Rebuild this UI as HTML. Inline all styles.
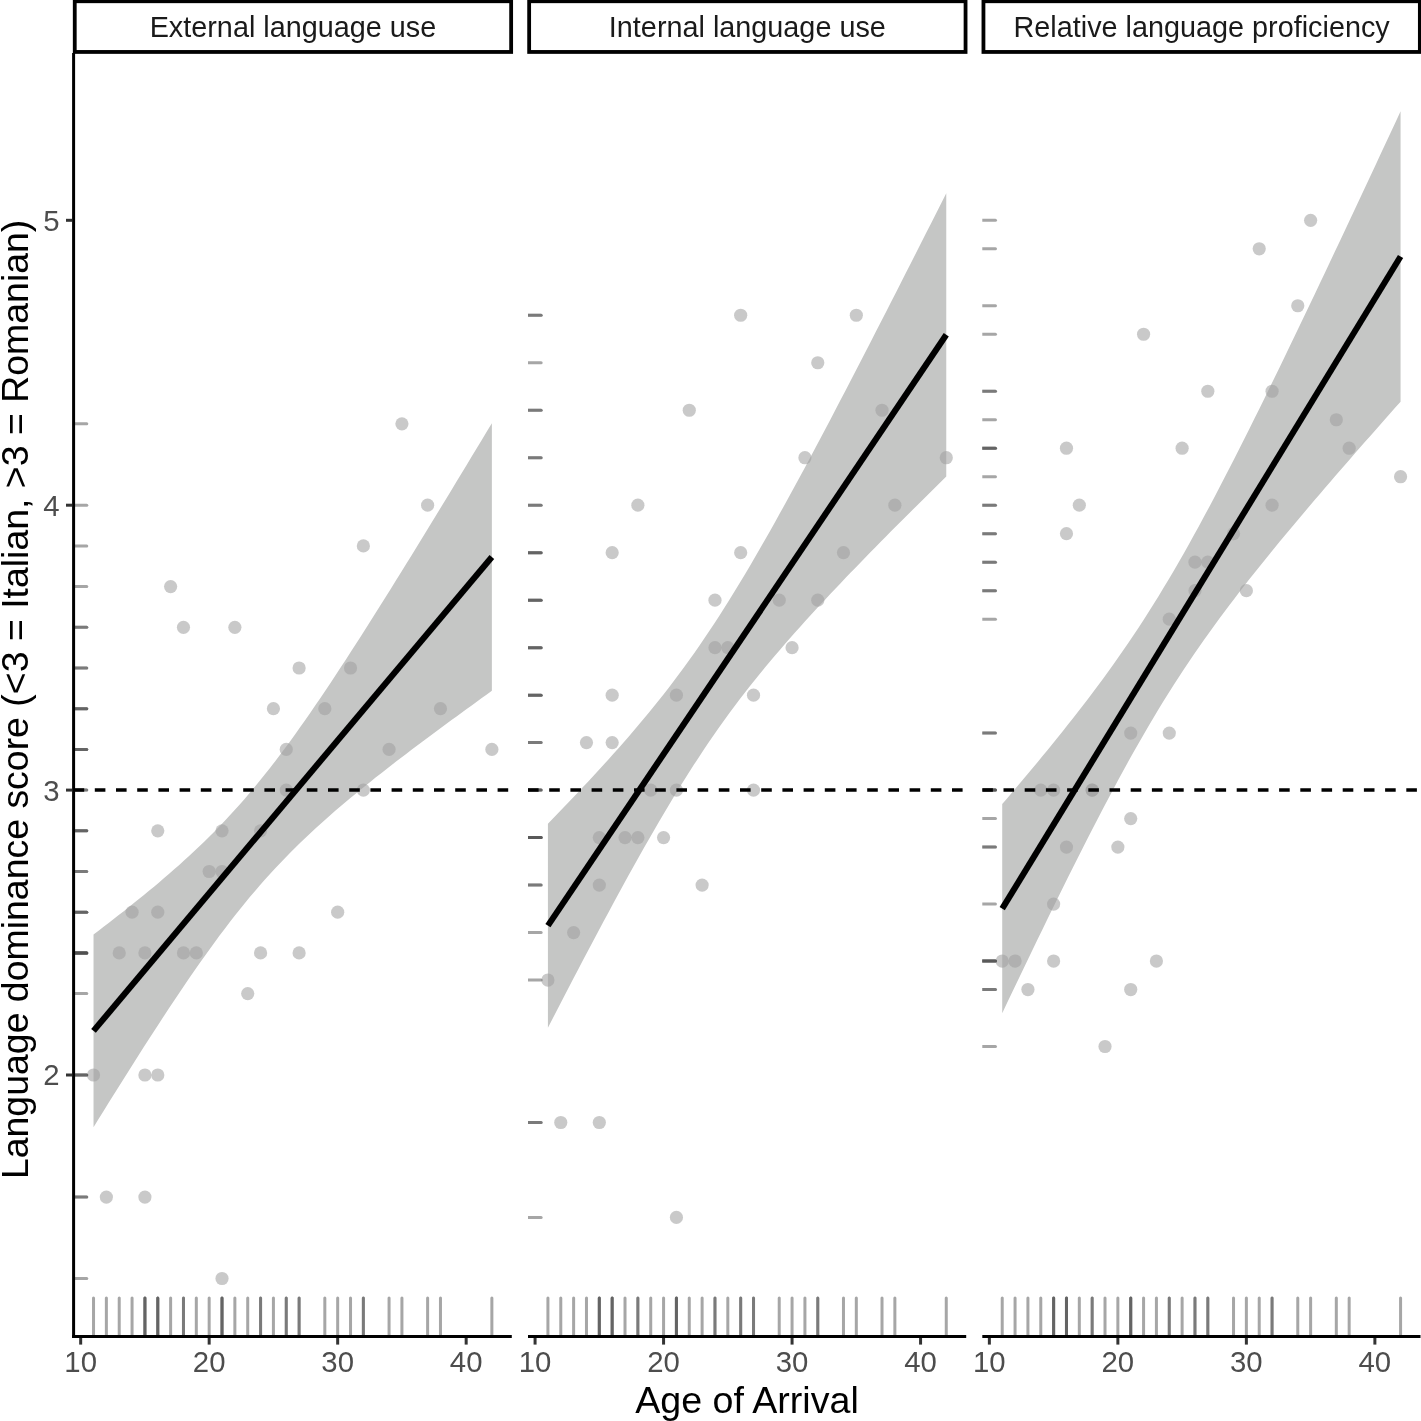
<!DOCTYPE html><html><head><meta charset="utf-8"><style>html,body{margin:0;padding:0;background:#fff;}svg{display:block;will-change:transform;}</style></head><body>
<svg width="1421" height="1421" viewBox="0 0 1421 1421" font-family='"Liberation Sans", sans-serif'>
<rect width="1421" height="1421" fill="#fff"/>
<g clip-path="url(#c0)">
<path fill="#c5c6c5" d="M93.52,934.5 L98.56,930.66 L103.6,926.81 L108.64,922.93 L113.69,919.02 L118.73,915.09 L123.77,911.13 L128.81,907.14 L133.86,903.11 L138.9,899.05 L143.94,894.95 L148.98,890.81 L154.03,886.63 L159.07,882.39 L164.11,878.11 L169.15,873.76 L174.2,869.36 L179.24,864.9 L184.28,860.36 L189.32,855.75 L194.37,851.06 L199.41,846.28 L204.45,841.42 L209.49,836.46 L214.54,831.39 L219.58,826.23 L224.62,820.95 L229.66,815.55 L234.7,810.03 L239.75,804.4 L244.79,798.63 L249.83,792.74 L254.87,786.72 L259.92,780.57 L264.96,774.3 L270,767.9 L275.04,761.38 L280.09,754.74 L285.13,747.99 L290.17,741.13 L295.21,734.16 L300.26,727.09 L305.3,719.93 L310.34,712.68 L315.38,705.35 L320.43,697.93 L325.47,690.45 L330.51,682.9 L335.55,675.28 L340.6,667.61 L345.64,659.88 L350.68,652.1 L355.72,644.28 L360.76,636.41 L365.81,628.5 L370.85,620.55 L375.89,612.56 L380.93,604.55 L385.98,596.5 L391.02,588.43 L396.06,580.33 L401.1,572.2 L406.15,564.05 L411.19,555.89 L416.23,547.7 L421.27,539.49 L426.32,531.26 L431.36,523.02 L436.4,514.77 L441.44,506.49 L446.49,498.21 L451.53,489.91 L456.57,481.6 L461.61,473.28 L466.66,464.95 L471.7,456.61 L476.74,448.26 L481.78,439.9 L486.83,431.53 L491.87,423.16 L491.87,690.84 L486.83,694.46 L481.78,698.09 L476.74,701.73 L471.7,705.38 L466.66,709.03 L461.61,712.7 L456.57,716.38 L451.53,720.06 L446.49,723.76 L441.44,727.48 L436.4,731.2 L431.36,734.94 L426.32,738.7 L421.27,742.47 L416.23,746.26 L411.19,750.07 L406.15,753.89 L401.1,757.74 L396.06,761.62 L391.02,765.51 L385.98,769.44 L380.93,773.39 L375.89,777.37 L370.85,781.38 L365.81,785.43 L360.76,789.52 L355.72,793.64 L350.68,797.81 L345.64,802.03 L340.6,806.3 L335.55,810.62 L330.51,815.01 L325.47,819.45 L320.43,823.97 L315.38,828.55 L310.34,833.22 L305.3,837.96 L300.26,842.8 L295.21,847.73 L290.17,852.76 L285.13,857.89 L280.09,863.13 L275.04,868.49 L270,873.97 L264.96,879.57 L259.92,885.29 L254.87,891.14 L249.83,897.12 L244.79,903.22 L239.75,909.46 L234.7,915.81 L229.66,922.3 L224.62,928.9 L219.58,935.61 L214.54,942.44 L209.49,949.38 L204.45,956.41 L199.41,963.55 L194.37,970.77 L189.32,978.07 L184.28,985.46 L179.24,992.92 L174.2,1000.45 L169.15,1008.05 L164.11,1015.7 L159.07,1023.41 L154.03,1031.18 L148.98,1038.99 L143.94,1046.84 L138.9,1054.74 L133.86,1062.68 L128.81,1070.65 L123.77,1078.66 L118.73,1086.69 L113.69,1094.76 L108.64,1102.85 L103.6,1110.97 L98.56,1119.11 L93.52,1127.27 Z"/>
<circle cx="401.92" cy="423.8" r="6.6" fill="#a0a0a0" fill-opacity="0.57"/>
<circle cx="427.62" cy="505.2" r="6.6" fill="#a0a0a0" fill-opacity="0.57"/>
<circle cx="363.37" cy="545.9" r="6.6" fill="#a0a0a0" fill-opacity="0.57"/>
<circle cx="170.62" cy="586.6" r="6.6" fill="#a0a0a0" fill-opacity="0.57"/>
<circle cx="183.47" cy="627.3" r="6.6" fill="#a0a0a0" fill-opacity="0.57"/>
<circle cx="234.87" cy="627.3" r="6.6" fill="#a0a0a0" fill-opacity="0.57"/>
<circle cx="299.12" cy="668" r="6.6" fill="#a0a0a0" fill-opacity="0.57"/>
<circle cx="350.52" cy="668" r="6.6" fill="#a0a0a0" fill-opacity="0.57"/>
<circle cx="273.42" cy="708.7" r="6.6" fill="#a0a0a0" fill-opacity="0.57"/>
<circle cx="324.82" cy="708.7" r="6.6" fill="#a0a0a0" fill-opacity="0.57"/>
<circle cx="440.47" cy="708.7" r="6.6" fill="#a0a0a0" fill-opacity="0.57"/>
<circle cx="286.27" cy="749.4" r="6.6" fill="#a0a0a0" fill-opacity="0.57"/>
<circle cx="389.07" cy="749.4" r="6.6" fill="#a0a0a0" fill-opacity="0.57"/>
<circle cx="491.87" cy="749.4" r="6.6" fill="#a0a0a0" fill-opacity="0.57"/>
<circle cx="286.27" cy="790.1" r="6.6" fill="#a0a0a0" fill-opacity="0.57"/>
<circle cx="363.37" cy="790.1" r="6.6" fill="#a0a0a0" fill-opacity="0.57"/>
<circle cx="157.77" cy="830.8" r="6.6" fill="#a0a0a0" fill-opacity="0.57"/>
<circle cx="222.02" cy="830.8" r="6.6" fill="#a0a0a0" fill-opacity="0.57"/>
<circle cx="260.57" cy="830.8" r="6.6" fill="#a0a0a0" fill-opacity="0.57"/>
<circle cx="209.17" cy="871.5" r="6.6" fill="#a0a0a0" fill-opacity="0.57"/>
<circle cx="222.02" cy="871.5" r="6.6" fill="#a0a0a0" fill-opacity="0.57"/>
<circle cx="132.07" cy="912.2" r="6.6" fill="#a0a0a0" fill-opacity="0.57"/>
<circle cx="157.77" cy="912.2" r="6.6" fill="#a0a0a0" fill-opacity="0.57"/>
<circle cx="337.67" cy="912.2" r="6.6" fill="#a0a0a0" fill-opacity="0.57"/>
<circle cx="119.22" cy="952.9" r="6.6" fill="#a0a0a0" fill-opacity="0.57"/>
<circle cx="144.92" cy="952.9" r="6.6" fill="#a0a0a0" fill-opacity="0.57"/>
<circle cx="183.47" cy="952.9" r="6.6" fill="#a0a0a0" fill-opacity="0.57"/>
<circle cx="196.32" cy="952.9" r="6.6" fill="#a0a0a0" fill-opacity="0.57"/>
<circle cx="260.57" cy="952.9" r="6.6" fill="#a0a0a0" fill-opacity="0.57"/>
<circle cx="299.12" cy="952.9" r="6.6" fill="#a0a0a0" fill-opacity="0.57"/>
<circle cx="247.72" cy="993.6" r="6.6" fill="#a0a0a0" fill-opacity="0.57"/>
<circle cx="93.52" cy="1075" r="6.6" fill="#a0a0a0" fill-opacity="0.57"/>
<circle cx="144.92" cy="1075" r="6.6" fill="#a0a0a0" fill-opacity="0.57"/>
<circle cx="157.77" cy="1075" r="6.6" fill="#a0a0a0" fill-opacity="0.57"/>
<circle cx="106.37" cy="1197.1" r="6.6" fill="#a0a0a0" fill-opacity="0.57"/>
<circle cx="144.92" cy="1197.1" r="6.6" fill="#a0a0a0" fill-opacity="0.57"/>
<circle cx="222.02" cy="1278.5" r="6.6" fill="#a0a0a0" fill-opacity="0.57"/>
<line x1="93.52" y1="1030.88" x2="491.87" y2="557" stroke="#000" stroke-width="6.1"/>
<line x1="401.92" y1="1336.5" x2="401.92" y2="1298.03" stroke="#4d4d4d" stroke-opacity="0.5" stroke-width="3.0" stroke-linecap="round"/>
<line x1="73.6" y1="423.8" x2="86.75" y2="423.8" stroke="#4d4d4d" stroke-opacity="0.5" stroke-width="3.0" stroke-linecap="round"/>
<line x1="427.62" y1="1336.5" x2="427.62" y2="1298.03" stroke="#4d4d4d" stroke-opacity="0.5" stroke-width="3.0" stroke-linecap="round"/>
<line x1="73.6" y1="505.2" x2="86.75" y2="505.2" stroke="#4d4d4d" stroke-opacity="0.5" stroke-width="3.0" stroke-linecap="round"/>
<line x1="363.37" y1="1336.5" x2="363.37" y2="1298.03" stroke="#4d4d4d" stroke-opacity="0.5" stroke-width="3.0" stroke-linecap="round"/>
<line x1="73.6" y1="545.9" x2="86.75" y2="545.9" stroke="#4d4d4d" stroke-opacity="0.5" stroke-width="3.0" stroke-linecap="round"/>
<line x1="170.62" y1="1336.5" x2="170.62" y2="1298.03" stroke="#4d4d4d" stroke-opacity="0.5" stroke-width="3.0" stroke-linecap="round"/>
<line x1="73.6" y1="586.6" x2="86.75" y2="586.6" stroke="#4d4d4d" stroke-opacity="0.5" stroke-width="3.0" stroke-linecap="round"/>
<line x1="183.47" y1="1336.5" x2="183.47" y2="1298.03" stroke="#4d4d4d" stroke-opacity="0.5" stroke-width="3.0" stroke-linecap="round"/>
<line x1="73.6" y1="627.3" x2="86.75" y2="627.3" stroke="#4d4d4d" stroke-opacity="0.5" stroke-width="3.0" stroke-linecap="round"/>
<line x1="234.87" y1="1336.5" x2="234.87" y2="1298.03" stroke="#4d4d4d" stroke-opacity="0.5" stroke-width="3.0" stroke-linecap="round"/>
<line x1="73.6" y1="627.3" x2="86.75" y2="627.3" stroke="#4d4d4d" stroke-opacity="0.5" stroke-width="3.0" stroke-linecap="round"/>
<line x1="299.12" y1="1336.5" x2="299.12" y2="1298.03" stroke="#4d4d4d" stroke-opacity="0.5" stroke-width="3.0" stroke-linecap="round"/>
<line x1="73.6" y1="668" x2="86.75" y2="668" stroke="#4d4d4d" stroke-opacity="0.5" stroke-width="3.0" stroke-linecap="round"/>
<line x1="350.52" y1="1336.5" x2="350.52" y2="1298.03" stroke="#4d4d4d" stroke-opacity="0.5" stroke-width="3.0" stroke-linecap="round"/>
<line x1="73.6" y1="668" x2="86.75" y2="668" stroke="#4d4d4d" stroke-opacity="0.5" stroke-width="3.0" stroke-linecap="round"/>
<line x1="273.42" y1="1336.5" x2="273.42" y2="1298.03" stroke="#4d4d4d" stroke-opacity="0.5" stroke-width="3.0" stroke-linecap="round"/>
<line x1="73.6" y1="708.7" x2="86.75" y2="708.7" stroke="#4d4d4d" stroke-opacity="0.5" stroke-width="3.0" stroke-linecap="round"/>
<line x1="324.82" y1="1336.5" x2="324.82" y2="1298.03" stroke="#4d4d4d" stroke-opacity="0.5" stroke-width="3.0" stroke-linecap="round"/>
<line x1="73.6" y1="708.7" x2="86.75" y2="708.7" stroke="#4d4d4d" stroke-opacity="0.5" stroke-width="3.0" stroke-linecap="round"/>
<line x1="440.47" y1="1336.5" x2="440.47" y2="1298.03" stroke="#4d4d4d" stroke-opacity="0.5" stroke-width="3.0" stroke-linecap="round"/>
<line x1="73.6" y1="708.7" x2="86.75" y2="708.7" stroke="#4d4d4d" stroke-opacity="0.5" stroke-width="3.0" stroke-linecap="round"/>
<line x1="286.27" y1="1336.5" x2="286.27" y2="1298.03" stroke="#4d4d4d" stroke-opacity="0.5" stroke-width="3.0" stroke-linecap="round"/>
<line x1="73.6" y1="749.4" x2="86.75" y2="749.4" stroke="#4d4d4d" stroke-opacity="0.5" stroke-width="3.0" stroke-linecap="round"/>
<line x1="389.07" y1="1336.5" x2="389.07" y2="1298.03" stroke="#4d4d4d" stroke-opacity="0.5" stroke-width="3.0" stroke-linecap="round"/>
<line x1="73.6" y1="749.4" x2="86.75" y2="749.4" stroke="#4d4d4d" stroke-opacity="0.5" stroke-width="3.0" stroke-linecap="round"/>
<line x1="491.87" y1="1336.5" x2="491.87" y2="1298.03" stroke="#4d4d4d" stroke-opacity="0.5" stroke-width="3.0" stroke-linecap="round"/>
<line x1="73.6" y1="749.4" x2="86.75" y2="749.4" stroke="#4d4d4d" stroke-opacity="0.5" stroke-width="3.0" stroke-linecap="round"/>
<line x1="286.27" y1="1336.5" x2="286.27" y2="1298.03" stroke="#4d4d4d" stroke-opacity="0.5" stroke-width="3.0" stroke-linecap="round"/>
<line x1="73.6" y1="790.1" x2="86.75" y2="790.1" stroke="#4d4d4d" stroke-opacity="0.5" stroke-width="3.0" stroke-linecap="round"/>
<line x1="363.37" y1="1336.5" x2="363.37" y2="1298.03" stroke="#4d4d4d" stroke-opacity="0.5" stroke-width="3.0" stroke-linecap="round"/>
<line x1="73.6" y1="790.1" x2="86.75" y2="790.1" stroke="#4d4d4d" stroke-opacity="0.5" stroke-width="3.0" stroke-linecap="round"/>
<line x1="157.77" y1="1336.5" x2="157.77" y2="1298.03" stroke="#4d4d4d" stroke-opacity="0.5" stroke-width="3.0" stroke-linecap="round"/>
<line x1="73.6" y1="830.8" x2="86.75" y2="830.8" stroke="#4d4d4d" stroke-opacity="0.5" stroke-width="3.0" stroke-linecap="round"/>
<line x1="222.02" y1="1336.5" x2="222.02" y2="1298.03" stroke="#4d4d4d" stroke-opacity="0.5" stroke-width="3.0" stroke-linecap="round"/>
<line x1="73.6" y1="830.8" x2="86.75" y2="830.8" stroke="#4d4d4d" stroke-opacity="0.5" stroke-width="3.0" stroke-linecap="round"/>
<line x1="260.57" y1="1336.5" x2="260.57" y2="1298.03" stroke="#4d4d4d" stroke-opacity="0.5" stroke-width="3.0" stroke-linecap="round"/>
<line x1="73.6" y1="830.8" x2="86.75" y2="830.8" stroke="#4d4d4d" stroke-opacity="0.5" stroke-width="3.0" stroke-linecap="round"/>
<line x1="209.17" y1="1336.5" x2="209.17" y2="1298.03" stroke="#4d4d4d" stroke-opacity="0.5" stroke-width="3.0" stroke-linecap="round"/>
<line x1="73.6" y1="871.5" x2="86.75" y2="871.5" stroke="#4d4d4d" stroke-opacity="0.5" stroke-width="3.0" stroke-linecap="round"/>
<line x1="222.02" y1="1336.5" x2="222.02" y2="1298.03" stroke="#4d4d4d" stroke-opacity="0.5" stroke-width="3.0" stroke-linecap="round"/>
<line x1="73.6" y1="871.5" x2="86.75" y2="871.5" stroke="#4d4d4d" stroke-opacity="0.5" stroke-width="3.0" stroke-linecap="round"/>
<line x1="132.07" y1="1336.5" x2="132.07" y2="1298.03" stroke="#4d4d4d" stroke-opacity="0.5" stroke-width="3.0" stroke-linecap="round"/>
<line x1="73.6" y1="912.2" x2="86.75" y2="912.2" stroke="#4d4d4d" stroke-opacity="0.5" stroke-width="3.0" stroke-linecap="round"/>
<line x1="157.77" y1="1336.5" x2="157.77" y2="1298.03" stroke="#4d4d4d" stroke-opacity="0.5" stroke-width="3.0" stroke-linecap="round"/>
<line x1="73.6" y1="912.2" x2="86.75" y2="912.2" stroke="#4d4d4d" stroke-opacity="0.5" stroke-width="3.0" stroke-linecap="round"/>
<line x1="337.67" y1="1336.5" x2="337.67" y2="1298.03" stroke="#4d4d4d" stroke-opacity="0.5" stroke-width="3.0" stroke-linecap="round"/>
<line x1="73.6" y1="912.2" x2="86.75" y2="912.2" stroke="#4d4d4d" stroke-opacity="0.5" stroke-width="3.0" stroke-linecap="round"/>
<line x1="119.22" y1="1336.5" x2="119.22" y2="1298.03" stroke="#4d4d4d" stroke-opacity="0.5" stroke-width="3.0" stroke-linecap="round"/>
<line x1="73.6" y1="952.9" x2="86.75" y2="952.9" stroke="#4d4d4d" stroke-opacity="0.5" stroke-width="3.0" stroke-linecap="round"/>
<line x1="144.92" y1="1336.5" x2="144.92" y2="1298.03" stroke="#4d4d4d" stroke-opacity="0.5" stroke-width="3.0" stroke-linecap="round"/>
<line x1="73.6" y1="952.9" x2="86.75" y2="952.9" stroke="#4d4d4d" stroke-opacity="0.5" stroke-width="3.0" stroke-linecap="round"/>
<line x1="183.47" y1="1336.5" x2="183.47" y2="1298.03" stroke="#4d4d4d" stroke-opacity="0.5" stroke-width="3.0" stroke-linecap="round"/>
<line x1="73.6" y1="952.9" x2="86.75" y2="952.9" stroke="#4d4d4d" stroke-opacity="0.5" stroke-width="3.0" stroke-linecap="round"/>
<line x1="196.32" y1="1336.5" x2="196.32" y2="1298.03" stroke="#4d4d4d" stroke-opacity="0.5" stroke-width="3.0" stroke-linecap="round"/>
<line x1="73.6" y1="952.9" x2="86.75" y2="952.9" stroke="#4d4d4d" stroke-opacity="0.5" stroke-width="3.0" stroke-linecap="round"/>
<line x1="260.57" y1="1336.5" x2="260.57" y2="1298.03" stroke="#4d4d4d" stroke-opacity="0.5" stroke-width="3.0" stroke-linecap="round"/>
<line x1="73.6" y1="952.9" x2="86.75" y2="952.9" stroke="#4d4d4d" stroke-opacity="0.5" stroke-width="3.0" stroke-linecap="round"/>
<line x1="299.12" y1="1336.5" x2="299.12" y2="1298.03" stroke="#4d4d4d" stroke-opacity="0.5" stroke-width="3.0" stroke-linecap="round"/>
<line x1="73.6" y1="952.9" x2="86.75" y2="952.9" stroke="#4d4d4d" stroke-opacity="0.5" stroke-width="3.0" stroke-linecap="round"/>
<line x1="247.72" y1="1336.5" x2="247.72" y2="1298.03" stroke="#4d4d4d" stroke-opacity="0.5" stroke-width="3.0" stroke-linecap="round"/>
<line x1="73.6" y1="993.6" x2="86.75" y2="993.6" stroke="#4d4d4d" stroke-opacity="0.5" stroke-width="3.0" stroke-linecap="round"/>
<line x1="93.52" y1="1336.5" x2="93.52" y2="1298.03" stroke="#4d4d4d" stroke-opacity="0.5" stroke-width="3.0" stroke-linecap="round"/>
<line x1="73.6" y1="1075" x2="86.75" y2="1075" stroke="#4d4d4d" stroke-opacity="0.5" stroke-width="3.0" stroke-linecap="round"/>
<line x1="144.92" y1="1336.5" x2="144.92" y2="1298.03" stroke="#4d4d4d" stroke-opacity="0.5" stroke-width="3.0" stroke-linecap="round"/>
<line x1="73.6" y1="1075" x2="86.75" y2="1075" stroke="#4d4d4d" stroke-opacity="0.5" stroke-width="3.0" stroke-linecap="round"/>
<line x1="157.77" y1="1336.5" x2="157.77" y2="1298.03" stroke="#4d4d4d" stroke-opacity="0.5" stroke-width="3.0" stroke-linecap="round"/>
<line x1="73.6" y1="1075" x2="86.75" y2="1075" stroke="#4d4d4d" stroke-opacity="0.5" stroke-width="3.0" stroke-linecap="round"/>
<line x1="106.37" y1="1336.5" x2="106.37" y2="1298.03" stroke="#4d4d4d" stroke-opacity="0.5" stroke-width="3.0" stroke-linecap="round"/>
<line x1="73.6" y1="1197.1" x2="86.75" y2="1197.1" stroke="#4d4d4d" stroke-opacity="0.5" stroke-width="3.0" stroke-linecap="round"/>
<line x1="144.92" y1="1336.5" x2="144.92" y2="1298.03" stroke="#4d4d4d" stroke-opacity="0.5" stroke-width="3.0" stroke-linecap="round"/>
<line x1="73.6" y1="1197.1" x2="86.75" y2="1197.1" stroke="#4d4d4d" stroke-opacity="0.5" stroke-width="3.0" stroke-linecap="round"/>
<line x1="222.02" y1="1336.5" x2="222.02" y2="1298.03" stroke="#4d4d4d" stroke-opacity="0.5" stroke-width="3.0" stroke-linecap="round"/>
<line x1="73.6" y1="1278.5" x2="86.75" y2="1278.5" stroke="#4d4d4d" stroke-opacity="0.5" stroke-width="3.0" stroke-linecap="round"/>
<line x1="73.6" y1="790.1" x2="511.8" y2="790.1" stroke="#000" stroke-width="3.5" stroke-dasharray="10.6 10.6"/>
</g>
<line x1="72.1" y1="1336.5" x2="511.8" y2="1336.5" stroke="#000" stroke-width="3.0"/>
<line x1="80.67" y1="1338" x2="80.67" y2="1344.6" stroke="#333333" stroke-width="3"/>
<text x="80.67" y="1372.3" font-size="29.33" fill="#4d4d4d" text-anchor="middle">10</text>
<line x1="209.17" y1="1338" x2="209.17" y2="1344.6" stroke="#333333" stroke-width="3"/>
<text x="209.17" y="1372.3" font-size="29.33" fill="#4d4d4d" text-anchor="middle">20</text>
<line x1="337.67" y1="1338" x2="337.67" y2="1344.6" stroke="#333333" stroke-width="3"/>
<text x="337.67" y="1372.3" font-size="29.33" fill="#4d4d4d" text-anchor="middle">30</text>
<line x1="466.17" y1="1338" x2="466.17" y2="1344.6" stroke="#333333" stroke-width="3"/>
<text x="466.17" y="1372.3" font-size="29.33" fill="#4d4d4d" text-anchor="middle">40</text>
<rect x="74.75" y="1.25" width="436.4" height="50.7" fill="#fff" stroke="#000" stroke-width="3.8"/>
<text x="292.95" y="37.4" font-size="28.8" fill="#1a1a1a" text-anchor="middle">External language use</text>
<g clip-path="url(#c1)">
<path fill="#c5c6c5" d="M547.92,823.65 L552.96,818.46 L558,813.25 L563.04,808.01 L568.09,802.75 L573.13,797.46 L578.17,792.14 L583.21,786.78 L588.26,781.39 L593.3,775.96 L598.34,770.49 L603.38,764.98 L608.43,759.42 L613.47,753.81 L618.51,748.14 L623.55,742.42 L628.6,736.63 L633.64,730.77 L638.68,724.84 L643.72,718.83 L648.77,712.74 L653.81,706.55 L658.85,700.27 L663.89,693.89 L668.94,687.4 L673.98,680.8 L679.02,674.08 L684.06,667.24 L689.1,660.27 L694.15,653.18 L699.19,645.95 L704.23,638.58 L709.27,631.08 L714.32,623.44 L719.36,615.67 L724.4,607.77 L729.44,599.74 L734.49,591.58 L739.53,583.3 L744.57,574.91 L749.61,566.41 L754.66,557.8 L759.7,549.09 L764.74,540.28 L769.78,531.39 L774.83,522.42 L779.87,513.37 L784.91,504.24 L789.95,495.05 L795,485.8 L800.04,476.49 L805.08,467.13 L810.12,457.72 L815.16,448.26 L820.21,438.75 L825.25,429.21 L830.29,419.63 L835.33,410.02 L840.38,400.37 L845.42,390.7 L850.46,380.99 L855.5,371.26 L860.55,361.51 L865.59,351.73 L870.63,341.94 L875.67,332.12 L880.72,322.28 L885.76,312.43 L890.8,302.56 L895.84,292.68 L900.89,282.78 L905.93,272.87 L910.97,262.94 L916.01,253.01 L921.06,243.06 L926.1,233.1 L931.14,223.13 L936.18,213.16 L941.23,203.17 L946.27,193.17 L946.27,476.48 L941.23,481.44 L936.18,486.41 L931.14,491.39 L926.1,496.38 L921.06,501.38 L916.01,506.39 L910.97,511.41 L905.93,516.44 L900.89,521.49 L895.84,526.55 L890.8,531.62 L885.76,536.71 L880.72,541.82 L875.67,546.94 L870.63,552.08 L865.59,557.24 L860.55,562.42 L855.5,567.63 L850.46,572.86 L845.42,578.11 L840.38,583.39 L835.33,588.7 L830.29,594.05 L825.25,599.43 L820.21,604.84 L815.16,610.3 L810.12,615.8 L805.08,621.34 L800.04,626.94 L795,632.58 L789.95,638.29 L784.91,644.06 L779.87,649.89 L774.83,655.8 L769.78,661.78 L764.74,667.85 L759.7,674 L754.66,680.25 L749.61,686.6 L744.57,693.05 L739.53,699.62 L734.49,706.3 L729.44,713.1 L724.4,720.02 L719.36,727.08 L714.32,734.27 L709.27,741.59 L704.23,749.05 L699.19,756.64 L694.15,764.37 L689.1,772.23 L684.06,780.22 L679.02,788.33 L673.98,796.57 L668.94,804.93 L663.89,813.4 L658.85,821.98 L653.81,830.65 L648.77,839.43 L643.72,848.29 L638.68,857.24 L633.64,866.26 L628.6,875.36 L623.55,884.53 L618.51,893.77 L613.47,903.06 L608.43,912.4 L603.38,921.8 L598.34,931.25 L593.3,940.73 L588.26,950.26 L583.21,959.83 L578.17,969.44 L573.13,979.07 L568.09,988.74 L563.04,998.43 L558,1008.15 L552.96,1017.9 L547.92,1027.67 Z"/>
<circle cx="740.67" cy="315.27" r="6.6" fill="#a0a0a0" fill-opacity="0.57"/>
<circle cx="856.32" cy="315.27" r="6.6" fill="#a0a0a0" fill-opacity="0.57"/>
<circle cx="817.77" cy="362.75" r="6.6" fill="#a0a0a0" fill-opacity="0.57"/>
<circle cx="689.27" cy="410.23" r="6.6" fill="#a0a0a0" fill-opacity="0.57"/>
<circle cx="882.02" cy="410.23" r="6.6" fill="#a0a0a0" fill-opacity="0.57"/>
<circle cx="804.92" cy="457.72" r="6.6" fill="#a0a0a0" fill-opacity="0.57"/>
<circle cx="946.27" cy="457.72" r="6.6" fill="#a0a0a0" fill-opacity="0.57"/>
<circle cx="637.87" cy="505.2" r="6.6" fill="#a0a0a0" fill-opacity="0.57"/>
<circle cx="894.87" cy="505.2" r="6.6" fill="#a0a0a0" fill-opacity="0.57"/>
<circle cx="612.17" cy="552.68" r="6.6" fill="#a0a0a0" fill-opacity="0.57"/>
<circle cx="740.67" cy="552.68" r="6.6" fill="#a0a0a0" fill-opacity="0.57"/>
<circle cx="843.47" cy="552.68" r="6.6" fill="#a0a0a0" fill-opacity="0.57"/>
<circle cx="714.97" cy="600.17" r="6.6" fill="#a0a0a0" fill-opacity="0.57"/>
<circle cx="779.22" cy="600.17" r="6.6" fill="#a0a0a0" fill-opacity="0.57"/>
<circle cx="817.77" cy="600.17" r="6.6" fill="#a0a0a0" fill-opacity="0.57"/>
<circle cx="714.97" cy="647.65" r="6.6" fill="#a0a0a0" fill-opacity="0.57"/>
<circle cx="727.82" cy="647.65" r="6.6" fill="#a0a0a0" fill-opacity="0.57"/>
<circle cx="792.07" cy="647.65" r="6.6" fill="#a0a0a0" fill-opacity="0.57"/>
<circle cx="612.17" cy="695.13" r="6.6" fill="#a0a0a0" fill-opacity="0.57"/>
<circle cx="676.42" cy="695.13" r="6.6" fill="#a0a0a0" fill-opacity="0.57"/>
<circle cx="753.52" cy="695.13" r="6.6" fill="#a0a0a0" fill-opacity="0.57"/>
<circle cx="586.47" cy="742.62" r="6.6" fill="#a0a0a0" fill-opacity="0.57"/>
<circle cx="612.17" cy="742.62" r="6.6" fill="#a0a0a0" fill-opacity="0.57"/>
<circle cx="650.72" cy="790.1" r="6.6" fill="#a0a0a0" fill-opacity="0.57"/>
<circle cx="676.42" cy="790.1" r="6.6" fill="#a0a0a0" fill-opacity="0.57"/>
<circle cx="753.52" cy="790.1" r="6.6" fill="#a0a0a0" fill-opacity="0.57"/>
<circle cx="599.32" cy="837.58" r="6.6" fill="#a0a0a0" fill-opacity="0.57"/>
<circle cx="625.02" cy="837.58" r="6.6" fill="#a0a0a0" fill-opacity="0.57"/>
<circle cx="637.87" cy="837.58" r="6.6" fill="#a0a0a0" fill-opacity="0.57"/>
<circle cx="663.57" cy="837.58" r="6.6" fill="#a0a0a0" fill-opacity="0.57"/>
<circle cx="599.32" cy="885.07" r="6.6" fill="#a0a0a0" fill-opacity="0.57"/>
<circle cx="702.12" cy="885.07" r="6.6" fill="#a0a0a0" fill-opacity="0.57"/>
<circle cx="573.62" cy="932.55" r="6.6" fill="#a0a0a0" fill-opacity="0.57"/>
<circle cx="547.92" cy="980.03" r="6.6" fill="#a0a0a0" fill-opacity="0.57"/>
<circle cx="560.77" cy="1122.48" r="6.6" fill="#a0a0a0" fill-opacity="0.57"/>
<circle cx="599.32" cy="1122.48" r="6.6" fill="#a0a0a0" fill-opacity="0.57"/>
<circle cx="676.42" cy="1217.45" r="6.6" fill="#a0a0a0" fill-opacity="0.57"/>
<line x1="547.92" y1="925.66" x2="946.27" y2="334.83" stroke="#000" stroke-width="6.1"/>
<line x1="740.67" y1="1336.5" x2="740.67" y2="1298.03" stroke="#4d4d4d" stroke-opacity="0.5" stroke-width="3.0" stroke-linecap="round"/>
<line x1="528" y1="315.27" x2="541.15" y2="315.27" stroke="#4d4d4d" stroke-opacity="0.5" stroke-width="3.0" stroke-linecap="round"/>
<line x1="856.32" y1="1336.5" x2="856.32" y2="1298.03" stroke="#4d4d4d" stroke-opacity="0.5" stroke-width="3.0" stroke-linecap="round"/>
<line x1="528" y1="315.27" x2="541.15" y2="315.27" stroke="#4d4d4d" stroke-opacity="0.5" stroke-width="3.0" stroke-linecap="round"/>
<line x1="817.77" y1="1336.5" x2="817.77" y2="1298.03" stroke="#4d4d4d" stroke-opacity="0.5" stroke-width="3.0" stroke-linecap="round"/>
<line x1="528" y1="362.75" x2="541.15" y2="362.75" stroke="#4d4d4d" stroke-opacity="0.5" stroke-width="3.0" stroke-linecap="round"/>
<line x1="689.27" y1="1336.5" x2="689.27" y2="1298.03" stroke="#4d4d4d" stroke-opacity="0.5" stroke-width="3.0" stroke-linecap="round"/>
<line x1="528" y1="410.23" x2="541.15" y2="410.23" stroke="#4d4d4d" stroke-opacity="0.5" stroke-width="3.0" stroke-linecap="round"/>
<line x1="882.02" y1="1336.5" x2="882.02" y2="1298.03" stroke="#4d4d4d" stroke-opacity="0.5" stroke-width="3.0" stroke-linecap="round"/>
<line x1="528" y1="410.23" x2="541.15" y2="410.23" stroke="#4d4d4d" stroke-opacity="0.5" stroke-width="3.0" stroke-linecap="round"/>
<line x1="804.92" y1="1336.5" x2="804.92" y2="1298.03" stroke="#4d4d4d" stroke-opacity="0.5" stroke-width="3.0" stroke-linecap="round"/>
<line x1="528" y1="457.72" x2="541.15" y2="457.72" stroke="#4d4d4d" stroke-opacity="0.5" stroke-width="3.0" stroke-linecap="round"/>
<line x1="946.27" y1="1336.5" x2="946.27" y2="1298.03" stroke="#4d4d4d" stroke-opacity="0.5" stroke-width="3.0" stroke-linecap="round"/>
<line x1="528" y1="457.72" x2="541.15" y2="457.72" stroke="#4d4d4d" stroke-opacity="0.5" stroke-width="3.0" stroke-linecap="round"/>
<line x1="637.87" y1="1336.5" x2="637.87" y2="1298.03" stroke="#4d4d4d" stroke-opacity="0.5" stroke-width="3.0" stroke-linecap="round"/>
<line x1="528" y1="505.2" x2="541.15" y2="505.2" stroke="#4d4d4d" stroke-opacity="0.5" stroke-width="3.0" stroke-linecap="round"/>
<line x1="894.87" y1="1336.5" x2="894.87" y2="1298.03" stroke="#4d4d4d" stroke-opacity="0.5" stroke-width="3.0" stroke-linecap="round"/>
<line x1="528" y1="505.2" x2="541.15" y2="505.2" stroke="#4d4d4d" stroke-opacity="0.5" stroke-width="3.0" stroke-linecap="round"/>
<line x1="612.17" y1="1336.5" x2="612.17" y2="1298.03" stroke="#4d4d4d" stroke-opacity="0.5" stroke-width="3.0" stroke-linecap="round"/>
<line x1="528" y1="552.68" x2="541.15" y2="552.68" stroke="#4d4d4d" stroke-opacity="0.5" stroke-width="3.0" stroke-linecap="round"/>
<line x1="740.67" y1="1336.5" x2="740.67" y2="1298.03" stroke="#4d4d4d" stroke-opacity="0.5" stroke-width="3.0" stroke-linecap="round"/>
<line x1="528" y1="552.68" x2="541.15" y2="552.68" stroke="#4d4d4d" stroke-opacity="0.5" stroke-width="3.0" stroke-linecap="round"/>
<line x1="843.47" y1="1336.5" x2="843.47" y2="1298.03" stroke="#4d4d4d" stroke-opacity="0.5" stroke-width="3.0" stroke-linecap="round"/>
<line x1="528" y1="552.68" x2="541.15" y2="552.68" stroke="#4d4d4d" stroke-opacity="0.5" stroke-width="3.0" stroke-linecap="round"/>
<line x1="714.97" y1="1336.5" x2="714.97" y2="1298.03" stroke="#4d4d4d" stroke-opacity="0.5" stroke-width="3.0" stroke-linecap="round"/>
<line x1="528" y1="600.17" x2="541.15" y2="600.17" stroke="#4d4d4d" stroke-opacity="0.5" stroke-width="3.0" stroke-linecap="round"/>
<line x1="779.22" y1="1336.5" x2="779.22" y2="1298.03" stroke="#4d4d4d" stroke-opacity="0.5" stroke-width="3.0" stroke-linecap="round"/>
<line x1="528" y1="600.17" x2="541.15" y2="600.17" stroke="#4d4d4d" stroke-opacity="0.5" stroke-width="3.0" stroke-linecap="round"/>
<line x1="817.77" y1="1336.5" x2="817.77" y2="1298.03" stroke="#4d4d4d" stroke-opacity="0.5" stroke-width="3.0" stroke-linecap="round"/>
<line x1="528" y1="600.17" x2="541.15" y2="600.17" stroke="#4d4d4d" stroke-opacity="0.5" stroke-width="3.0" stroke-linecap="round"/>
<line x1="714.97" y1="1336.5" x2="714.97" y2="1298.03" stroke="#4d4d4d" stroke-opacity="0.5" stroke-width="3.0" stroke-linecap="round"/>
<line x1="528" y1="647.65" x2="541.15" y2="647.65" stroke="#4d4d4d" stroke-opacity="0.5" stroke-width="3.0" stroke-linecap="round"/>
<line x1="727.82" y1="1336.5" x2="727.82" y2="1298.03" stroke="#4d4d4d" stroke-opacity="0.5" stroke-width="3.0" stroke-linecap="round"/>
<line x1="528" y1="647.65" x2="541.15" y2="647.65" stroke="#4d4d4d" stroke-opacity="0.5" stroke-width="3.0" stroke-linecap="round"/>
<line x1="792.07" y1="1336.5" x2="792.07" y2="1298.03" stroke="#4d4d4d" stroke-opacity="0.5" stroke-width="3.0" stroke-linecap="round"/>
<line x1="528" y1="647.65" x2="541.15" y2="647.65" stroke="#4d4d4d" stroke-opacity="0.5" stroke-width="3.0" stroke-linecap="round"/>
<line x1="612.17" y1="1336.5" x2="612.17" y2="1298.03" stroke="#4d4d4d" stroke-opacity="0.5" stroke-width="3.0" stroke-linecap="round"/>
<line x1="528" y1="695.13" x2="541.15" y2="695.13" stroke="#4d4d4d" stroke-opacity="0.5" stroke-width="3.0" stroke-linecap="round"/>
<line x1="676.42" y1="1336.5" x2="676.42" y2="1298.03" stroke="#4d4d4d" stroke-opacity="0.5" stroke-width="3.0" stroke-linecap="round"/>
<line x1="528" y1="695.13" x2="541.15" y2="695.13" stroke="#4d4d4d" stroke-opacity="0.5" stroke-width="3.0" stroke-linecap="round"/>
<line x1="753.52" y1="1336.5" x2="753.52" y2="1298.03" stroke="#4d4d4d" stroke-opacity="0.5" stroke-width="3.0" stroke-linecap="round"/>
<line x1="528" y1="695.13" x2="541.15" y2="695.13" stroke="#4d4d4d" stroke-opacity="0.5" stroke-width="3.0" stroke-linecap="round"/>
<line x1="586.47" y1="1336.5" x2="586.47" y2="1298.03" stroke="#4d4d4d" stroke-opacity="0.5" stroke-width="3.0" stroke-linecap="round"/>
<line x1="528" y1="742.62" x2="541.15" y2="742.62" stroke="#4d4d4d" stroke-opacity="0.5" stroke-width="3.0" stroke-linecap="round"/>
<line x1="612.17" y1="1336.5" x2="612.17" y2="1298.03" stroke="#4d4d4d" stroke-opacity="0.5" stroke-width="3.0" stroke-linecap="round"/>
<line x1="528" y1="742.62" x2="541.15" y2="742.62" stroke="#4d4d4d" stroke-opacity="0.5" stroke-width="3.0" stroke-linecap="round"/>
<line x1="650.72" y1="1336.5" x2="650.72" y2="1298.03" stroke="#4d4d4d" stroke-opacity="0.5" stroke-width="3.0" stroke-linecap="round"/>
<line x1="528" y1="790.1" x2="541.15" y2="790.1" stroke="#4d4d4d" stroke-opacity="0.5" stroke-width="3.0" stroke-linecap="round"/>
<line x1="676.42" y1="1336.5" x2="676.42" y2="1298.03" stroke="#4d4d4d" stroke-opacity="0.5" stroke-width="3.0" stroke-linecap="round"/>
<line x1="528" y1="790.1" x2="541.15" y2="790.1" stroke="#4d4d4d" stroke-opacity="0.5" stroke-width="3.0" stroke-linecap="round"/>
<line x1="753.52" y1="1336.5" x2="753.52" y2="1298.03" stroke="#4d4d4d" stroke-opacity="0.5" stroke-width="3.0" stroke-linecap="round"/>
<line x1="528" y1="790.1" x2="541.15" y2="790.1" stroke="#4d4d4d" stroke-opacity="0.5" stroke-width="3.0" stroke-linecap="round"/>
<line x1="599.32" y1="1336.5" x2="599.32" y2="1298.03" stroke="#4d4d4d" stroke-opacity="0.5" stroke-width="3.0" stroke-linecap="round"/>
<line x1="528" y1="837.58" x2="541.15" y2="837.58" stroke="#4d4d4d" stroke-opacity="0.5" stroke-width="3.0" stroke-linecap="round"/>
<line x1="625.02" y1="1336.5" x2="625.02" y2="1298.03" stroke="#4d4d4d" stroke-opacity="0.5" stroke-width="3.0" stroke-linecap="round"/>
<line x1="528" y1="837.58" x2="541.15" y2="837.58" stroke="#4d4d4d" stroke-opacity="0.5" stroke-width="3.0" stroke-linecap="round"/>
<line x1="637.87" y1="1336.5" x2="637.87" y2="1298.03" stroke="#4d4d4d" stroke-opacity="0.5" stroke-width="3.0" stroke-linecap="round"/>
<line x1="528" y1="837.58" x2="541.15" y2="837.58" stroke="#4d4d4d" stroke-opacity="0.5" stroke-width="3.0" stroke-linecap="round"/>
<line x1="663.57" y1="1336.5" x2="663.57" y2="1298.03" stroke="#4d4d4d" stroke-opacity="0.5" stroke-width="3.0" stroke-linecap="round"/>
<line x1="528" y1="837.58" x2="541.15" y2="837.58" stroke="#4d4d4d" stroke-opacity="0.5" stroke-width="3.0" stroke-linecap="round"/>
<line x1="599.32" y1="1336.5" x2="599.32" y2="1298.03" stroke="#4d4d4d" stroke-opacity="0.5" stroke-width="3.0" stroke-linecap="round"/>
<line x1="528" y1="885.07" x2="541.15" y2="885.07" stroke="#4d4d4d" stroke-opacity="0.5" stroke-width="3.0" stroke-linecap="round"/>
<line x1="702.12" y1="1336.5" x2="702.12" y2="1298.03" stroke="#4d4d4d" stroke-opacity="0.5" stroke-width="3.0" stroke-linecap="round"/>
<line x1="528" y1="885.07" x2="541.15" y2="885.07" stroke="#4d4d4d" stroke-opacity="0.5" stroke-width="3.0" stroke-linecap="round"/>
<line x1="573.62" y1="1336.5" x2="573.62" y2="1298.03" stroke="#4d4d4d" stroke-opacity="0.5" stroke-width="3.0" stroke-linecap="round"/>
<line x1="528" y1="932.55" x2="541.15" y2="932.55" stroke="#4d4d4d" stroke-opacity="0.5" stroke-width="3.0" stroke-linecap="round"/>
<line x1="547.92" y1="1336.5" x2="547.92" y2="1298.03" stroke="#4d4d4d" stroke-opacity="0.5" stroke-width="3.0" stroke-linecap="round"/>
<line x1="528" y1="980.03" x2="541.15" y2="980.03" stroke="#4d4d4d" stroke-opacity="0.5" stroke-width="3.0" stroke-linecap="round"/>
<line x1="560.77" y1="1336.5" x2="560.77" y2="1298.03" stroke="#4d4d4d" stroke-opacity="0.5" stroke-width="3.0" stroke-linecap="round"/>
<line x1="528" y1="1122.48" x2="541.15" y2="1122.48" stroke="#4d4d4d" stroke-opacity="0.5" stroke-width="3.0" stroke-linecap="round"/>
<line x1="599.32" y1="1336.5" x2="599.32" y2="1298.03" stroke="#4d4d4d" stroke-opacity="0.5" stroke-width="3.0" stroke-linecap="round"/>
<line x1="528" y1="1122.48" x2="541.15" y2="1122.48" stroke="#4d4d4d" stroke-opacity="0.5" stroke-width="3.0" stroke-linecap="round"/>
<line x1="676.42" y1="1336.5" x2="676.42" y2="1298.03" stroke="#4d4d4d" stroke-opacity="0.5" stroke-width="3.0" stroke-linecap="round"/>
<line x1="528" y1="1217.45" x2="541.15" y2="1217.45" stroke="#4d4d4d" stroke-opacity="0.5" stroke-width="3.0" stroke-linecap="round"/>
<line x1="528" y1="790.1" x2="966.2" y2="790.1" stroke="#000" stroke-width="3.5" stroke-dasharray="10.6 10.6"/>
</g>
<line x1="528" y1="1336.5" x2="966.2" y2="1336.5" stroke="#000" stroke-width="3.0"/>
<line x1="535.07" y1="1338" x2="535.07" y2="1344.6" stroke="#333333" stroke-width="3"/>
<text x="535.07" y="1372.3" font-size="29.33" fill="#4d4d4d" text-anchor="middle">10</text>
<line x1="663.57" y1="1338" x2="663.57" y2="1344.6" stroke="#333333" stroke-width="3"/>
<text x="663.57" y="1372.3" font-size="29.33" fill="#4d4d4d" text-anchor="middle">20</text>
<line x1="792.07" y1="1338" x2="792.07" y2="1344.6" stroke="#333333" stroke-width="3"/>
<text x="792.07" y="1372.3" font-size="29.33" fill="#4d4d4d" text-anchor="middle">30</text>
<line x1="920.57" y1="1338" x2="920.57" y2="1344.6" stroke="#333333" stroke-width="3"/>
<text x="920.57" y="1372.3" font-size="29.33" fill="#4d4d4d" text-anchor="middle">40</text>
<rect x="529.15" y="1.25" width="436.4" height="50.7" fill="#fff" stroke="#000" stroke-width="3.8"/>
<text x="747.35" y="37.4" font-size="28.8" fill="#1a1a1a" text-anchor="middle">Internal language use</text>
<g clip-path="url(#c2)">
<path fill="#c5c6c5" d="M1002.22,804.12 L1007.26,798.21 L1012.3,792.28 L1017.34,786.32 L1022.39,780.34 L1027.43,774.32 L1032.47,768.28 L1037.51,762.2 L1042.56,756.09 L1047.6,749.93 L1052.64,743.74 L1057.68,737.5 L1062.73,731.21 L1067.77,724.87 L1072.81,718.47 L1077.85,712.01 L1082.9,705.49 L1087.94,698.89 L1092.98,692.23 L1098.02,685.48 L1103.07,678.64 L1108.11,671.71 L1113.15,664.69 L1118.19,657.56 L1123.24,650.32 L1128.28,642.96 L1133.32,635.49 L1138.36,627.88 L1143.4,620.15 L1148.45,612.29 L1153.49,604.29 L1158.53,596.15 L1163.57,587.87 L1168.62,579.46 L1173.66,570.9 L1178.7,562.21 L1183.74,553.39 L1188.79,544.44 L1193.83,535.37 L1198.87,526.17 L1203.91,516.87 L1208.96,507.45 L1214,497.94 L1219.04,488.32 L1224.08,478.62 L1229.13,468.84 L1234.17,458.97 L1239.21,449.03 L1244.25,439.02 L1249.3,428.95 L1254.34,418.82 L1259.38,408.63 L1264.42,398.39 L1269.46,388.11 L1274.51,377.78 L1279.55,367.41 L1284.59,357 L1289.63,346.56 L1294.68,336.08 L1299.72,325.58 L1304.76,315.04 L1309.8,304.48 L1314.85,293.9 L1319.89,283.29 L1324.93,272.66 L1329.97,262 L1335.02,251.33 L1340.06,240.65 L1345.1,229.94 L1350.14,219.22 L1355.19,208.49 L1360.23,197.74 L1365.27,186.98 L1370.31,176.2 L1375.36,165.42 L1380.4,154.62 L1385.44,143.82 L1390.48,133 L1395.53,122.18 L1400.57,111.34 L1400.57,401.68 L1395.53,407.35 L1390.48,413.04 L1385.44,418.73 L1380.4,424.44 L1375.36,430.15 L1370.31,435.88 L1365.27,441.61 L1360.23,447.36 L1355.19,453.12 L1350.14,458.9 L1345.1,464.69 L1340.06,470.49 L1335.02,476.32 L1329.97,482.16 L1324.93,488.02 L1319.89,493.9 L1314.85,499.8 L1309.8,505.72 L1304.76,511.67 L1299.72,517.64 L1294.68,523.65 L1289.63,529.68 L1284.59,535.75 L1279.55,541.85 L1274.51,547.99 L1269.46,554.17 L1264.42,560.4 L1259.38,566.67 L1254.34,573 L1249.3,579.37 L1244.25,585.81 L1239.21,592.31 L1234.17,598.88 L1229.13,605.53 L1224.08,612.25 L1219.04,619.06 L1214,625.96 L1208.96,632.95 L1203.91,640.05 L1198.87,647.25 L1193.83,654.57 L1188.79,662 L1183.74,669.56 L1178.7,677.25 L1173.66,685.07 L1168.62,693.03 L1163.57,701.12 L1158.53,709.36 L1153.49,717.73 L1148.45,726.24 L1143.4,734.88 L1138.36,743.66 L1133.32,752.57 L1128.28,761.6 L1123.24,770.76 L1118.19,780.03 L1113.15,789.41 L1108.11,798.89 L1103.07,808.48 L1098.02,818.15 L1092.98,827.91 L1087.94,837.75 L1082.9,847.67 L1077.85,857.65 L1072.81,867.71 L1067.77,877.82 L1062.73,887.99 L1057.68,898.21 L1052.64,908.48 L1047.6,918.79 L1042.56,929.15 L1037.51,939.55 L1032.47,949.98 L1027.43,960.44 L1022.39,970.94 L1017.34,981.47 L1012.3,992.02 L1007.26,1002.6 L1002.22,1013.2 Z"/>
<circle cx="1310.62" cy="220.3" r="6.6" fill="#a0a0a0" fill-opacity="0.57"/>
<circle cx="1259.22" cy="248.79" r="6.6" fill="#a0a0a0" fill-opacity="0.57"/>
<circle cx="1297.77" cy="305.77" r="6.6" fill="#a0a0a0" fill-opacity="0.57"/>
<circle cx="1143.57" cy="334.26" r="6.6" fill="#a0a0a0" fill-opacity="0.57"/>
<circle cx="1207.82" cy="391.24" r="6.6" fill="#a0a0a0" fill-opacity="0.57"/>
<circle cx="1272.07" cy="391.24" r="6.6" fill="#a0a0a0" fill-opacity="0.57"/>
<circle cx="1336.32" cy="419.73" r="6.6" fill="#a0a0a0" fill-opacity="0.57"/>
<circle cx="1066.47" cy="448.22" r="6.6" fill="#a0a0a0" fill-opacity="0.57"/>
<circle cx="1182.12" cy="448.22" r="6.6" fill="#a0a0a0" fill-opacity="0.57"/>
<circle cx="1349.17" cy="448.22" r="6.6" fill="#a0a0a0" fill-opacity="0.57"/>
<circle cx="1400.57" cy="476.71" r="6.6" fill="#a0a0a0" fill-opacity="0.57"/>
<circle cx="1079.32" cy="505.2" r="6.6" fill="#a0a0a0" fill-opacity="0.57"/>
<circle cx="1272.07" cy="505.2" r="6.6" fill="#a0a0a0" fill-opacity="0.57"/>
<circle cx="1066.47" cy="533.69" r="6.6" fill="#a0a0a0" fill-opacity="0.57"/>
<circle cx="1233.52" cy="533.69" r="6.6" fill="#a0a0a0" fill-opacity="0.57"/>
<circle cx="1194.97" cy="562.18" r="6.6" fill="#a0a0a0" fill-opacity="0.57"/>
<circle cx="1207.82" cy="562.18" r="6.6" fill="#a0a0a0" fill-opacity="0.57"/>
<circle cx="1194.97" cy="590.67" r="6.6" fill="#a0a0a0" fill-opacity="0.57"/>
<circle cx="1246.37" cy="590.67" r="6.6" fill="#a0a0a0" fill-opacity="0.57"/>
<circle cx="1169.27" cy="619.16" r="6.6" fill="#a0a0a0" fill-opacity="0.57"/>
<circle cx="1130.72" cy="733.12" r="6.6" fill="#a0a0a0" fill-opacity="0.57"/>
<circle cx="1169.27" cy="733.12" r="6.6" fill="#a0a0a0" fill-opacity="0.57"/>
<circle cx="1040.77" cy="790.1" r="6.6" fill="#a0a0a0" fill-opacity="0.57"/>
<circle cx="1053.62" cy="790.1" r="6.6" fill="#a0a0a0" fill-opacity="0.57"/>
<circle cx="1092.17" cy="790.1" r="6.6" fill="#a0a0a0" fill-opacity="0.57"/>
<circle cx="1092.17" cy="790.1" r="6.6" fill="#a0a0a0" fill-opacity="0.57"/>
<circle cx="1130.72" cy="818.59" r="6.6" fill="#a0a0a0" fill-opacity="0.57"/>
<circle cx="1066.47" cy="847.08" r="6.6" fill="#a0a0a0" fill-opacity="0.57"/>
<circle cx="1117.87" cy="847.08" r="6.6" fill="#a0a0a0" fill-opacity="0.57"/>
<circle cx="1053.62" cy="904.06" r="6.6" fill="#a0a0a0" fill-opacity="0.57"/>
<circle cx="1002.22" cy="961.04" r="6.6" fill="#a0a0a0" fill-opacity="0.57"/>
<circle cx="1015.07" cy="961.04" r="6.6" fill="#a0a0a0" fill-opacity="0.57"/>
<circle cx="1053.62" cy="961.04" r="6.6" fill="#a0a0a0" fill-opacity="0.57"/>
<circle cx="1156.42" cy="961.04" r="6.6" fill="#a0a0a0" fill-opacity="0.57"/>
<circle cx="1027.92" cy="989.53" r="6.6" fill="#a0a0a0" fill-opacity="0.57"/>
<circle cx="1130.72" cy="989.53" r="6.6" fill="#a0a0a0" fill-opacity="0.57"/>
<circle cx="1105.02" cy="1046.51" r="6.6" fill="#a0a0a0" fill-opacity="0.57"/>
<line x1="1002.22" y1="908.66" x2="1400.57" y2="256.51" stroke="#000" stroke-width="6.1"/>
<line x1="1310.62" y1="1336.5" x2="1310.62" y2="1298.03" stroke="#4d4d4d" stroke-opacity="0.5" stroke-width="3.0" stroke-linecap="round"/>
<line x1="982.3" y1="220.3" x2="995.45" y2="220.3" stroke="#4d4d4d" stroke-opacity="0.5" stroke-width="3.0" stroke-linecap="round"/>
<line x1="1259.22" y1="1336.5" x2="1259.22" y2="1298.03" stroke="#4d4d4d" stroke-opacity="0.5" stroke-width="3.0" stroke-linecap="round"/>
<line x1="982.3" y1="248.79" x2="995.45" y2="248.79" stroke="#4d4d4d" stroke-opacity="0.5" stroke-width="3.0" stroke-linecap="round"/>
<line x1="1297.77" y1="1336.5" x2="1297.77" y2="1298.03" stroke="#4d4d4d" stroke-opacity="0.5" stroke-width="3.0" stroke-linecap="round"/>
<line x1="982.3" y1="305.77" x2="995.45" y2="305.77" stroke="#4d4d4d" stroke-opacity="0.5" stroke-width="3.0" stroke-linecap="round"/>
<line x1="1143.57" y1="1336.5" x2="1143.57" y2="1298.03" stroke="#4d4d4d" stroke-opacity="0.5" stroke-width="3.0" stroke-linecap="round"/>
<line x1="982.3" y1="334.26" x2="995.45" y2="334.26" stroke="#4d4d4d" stroke-opacity="0.5" stroke-width="3.0" stroke-linecap="round"/>
<line x1="1207.82" y1="1336.5" x2="1207.82" y2="1298.03" stroke="#4d4d4d" stroke-opacity="0.5" stroke-width="3.0" stroke-linecap="round"/>
<line x1="982.3" y1="391.24" x2="995.45" y2="391.24" stroke="#4d4d4d" stroke-opacity="0.5" stroke-width="3.0" stroke-linecap="round"/>
<line x1="1272.07" y1="1336.5" x2="1272.07" y2="1298.03" stroke="#4d4d4d" stroke-opacity="0.5" stroke-width="3.0" stroke-linecap="round"/>
<line x1="982.3" y1="391.24" x2="995.45" y2="391.24" stroke="#4d4d4d" stroke-opacity="0.5" stroke-width="3.0" stroke-linecap="round"/>
<line x1="1336.32" y1="1336.5" x2="1336.32" y2="1298.03" stroke="#4d4d4d" stroke-opacity="0.5" stroke-width="3.0" stroke-linecap="round"/>
<line x1="982.3" y1="419.73" x2="995.45" y2="419.73" stroke="#4d4d4d" stroke-opacity="0.5" stroke-width="3.0" stroke-linecap="round"/>
<line x1="1066.47" y1="1336.5" x2="1066.47" y2="1298.03" stroke="#4d4d4d" stroke-opacity="0.5" stroke-width="3.0" stroke-linecap="round"/>
<line x1="982.3" y1="448.22" x2="995.45" y2="448.22" stroke="#4d4d4d" stroke-opacity="0.5" stroke-width="3.0" stroke-linecap="round"/>
<line x1="1182.12" y1="1336.5" x2="1182.12" y2="1298.03" stroke="#4d4d4d" stroke-opacity="0.5" stroke-width="3.0" stroke-linecap="round"/>
<line x1="982.3" y1="448.22" x2="995.45" y2="448.22" stroke="#4d4d4d" stroke-opacity="0.5" stroke-width="3.0" stroke-linecap="round"/>
<line x1="1349.17" y1="1336.5" x2="1349.17" y2="1298.03" stroke="#4d4d4d" stroke-opacity="0.5" stroke-width="3.0" stroke-linecap="round"/>
<line x1="982.3" y1="448.22" x2="995.45" y2="448.22" stroke="#4d4d4d" stroke-opacity="0.5" stroke-width="3.0" stroke-linecap="round"/>
<line x1="1400.57" y1="1336.5" x2="1400.57" y2="1298.03" stroke="#4d4d4d" stroke-opacity="0.5" stroke-width="3.0" stroke-linecap="round"/>
<line x1="982.3" y1="476.71" x2="995.45" y2="476.71" stroke="#4d4d4d" stroke-opacity="0.5" stroke-width="3.0" stroke-linecap="round"/>
<line x1="1079.32" y1="1336.5" x2="1079.32" y2="1298.03" stroke="#4d4d4d" stroke-opacity="0.5" stroke-width="3.0" stroke-linecap="round"/>
<line x1="982.3" y1="505.2" x2="995.45" y2="505.2" stroke="#4d4d4d" stroke-opacity="0.5" stroke-width="3.0" stroke-linecap="round"/>
<line x1="1272.07" y1="1336.5" x2="1272.07" y2="1298.03" stroke="#4d4d4d" stroke-opacity="0.5" stroke-width="3.0" stroke-linecap="round"/>
<line x1="982.3" y1="505.2" x2="995.45" y2="505.2" stroke="#4d4d4d" stroke-opacity="0.5" stroke-width="3.0" stroke-linecap="round"/>
<line x1="1066.47" y1="1336.5" x2="1066.47" y2="1298.03" stroke="#4d4d4d" stroke-opacity="0.5" stroke-width="3.0" stroke-linecap="round"/>
<line x1="982.3" y1="533.69" x2="995.45" y2="533.69" stroke="#4d4d4d" stroke-opacity="0.5" stroke-width="3.0" stroke-linecap="round"/>
<line x1="1233.52" y1="1336.5" x2="1233.52" y2="1298.03" stroke="#4d4d4d" stroke-opacity="0.5" stroke-width="3.0" stroke-linecap="round"/>
<line x1="982.3" y1="533.69" x2="995.45" y2="533.69" stroke="#4d4d4d" stroke-opacity="0.5" stroke-width="3.0" stroke-linecap="round"/>
<line x1="1194.97" y1="1336.5" x2="1194.97" y2="1298.03" stroke="#4d4d4d" stroke-opacity="0.5" stroke-width="3.0" stroke-linecap="round"/>
<line x1="982.3" y1="562.18" x2="995.45" y2="562.18" stroke="#4d4d4d" stroke-opacity="0.5" stroke-width="3.0" stroke-linecap="round"/>
<line x1="1207.82" y1="1336.5" x2="1207.82" y2="1298.03" stroke="#4d4d4d" stroke-opacity="0.5" stroke-width="3.0" stroke-linecap="round"/>
<line x1="982.3" y1="562.18" x2="995.45" y2="562.18" stroke="#4d4d4d" stroke-opacity="0.5" stroke-width="3.0" stroke-linecap="round"/>
<line x1="1194.97" y1="1336.5" x2="1194.97" y2="1298.03" stroke="#4d4d4d" stroke-opacity="0.5" stroke-width="3.0" stroke-linecap="round"/>
<line x1="982.3" y1="590.67" x2="995.45" y2="590.67" stroke="#4d4d4d" stroke-opacity="0.5" stroke-width="3.0" stroke-linecap="round"/>
<line x1="1246.37" y1="1336.5" x2="1246.37" y2="1298.03" stroke="#4d4d4d" stroke-opacity="0.5" stroke-width="3.0" stroke-linecap="round"/>
<line x1="982.3" y1="590.67" x2="995.45" y2="590.67" stroke="#4d4d4d" stroke-opacity="0.5" stroke-width="3.0" stroke-linecap="round"/>
<line x1="1169.27" y1="1336.5" x2="1169.27" y2="1298.03" stroke="#4d4d4d" stroke-opacity="0.5" stroke-width="3.0" stroke-linecap="round"/>
<line x1="982.3" y1="619.16" x2="995.45" y2="619.16" stroke="#4d4d4d" stroke-opacity="0.5" stroke-width="3.0" stroke-linecap="round"/>
<line x1="1130.72" y1="1336.5" x2="1130.72" y2="1298.03" stroke="#4d4d4d" stroke-opacity="0.5" stroke-width="3.0" stroke-linecap="round"/>
<line x1="982.3" y1="733.12" x2="995.45" y2="733.12" stroke="#4d4d4d" stroke-opacity="0.5" stroke-width="3.0" stroke-linecap="round"/>
<line x1="1169.27" y1="1336.5" x2="1169.27" y2="1298.03" stroke="#4d4d4d" stroke-opacity="0.5" stroke-width="3.0" stroke-linecap="round"/>
<line x1="982.3" y1="733.12" x2="995.45" y2="733.12" stroke="#4d4d4d" stroke-opacity="0.5" stroke-width="3.0" stroke-linecap="round"/>
<line x1="1040.77" y1="1336.5" x2="1040.77" y2="1298.03" stroke="#4d4d4d" stroke-opacity="0.5" stroke-width="3.0" stroke-linecap="round"/>
<line x1="982.3" y1="790.1" x2="995.45" y2="790.1" stroke="#4d4d4d" stroke-opacity="0.5" stroke-width="3.0" stroke-linecap="round"/>
<line x1="1053.62" y1="1336.5" x2="1053.62" y2="1298.03" stroke="#4d4d4d" stroke-opacity="0.5" stroke-width="3.0" stroke-linecap="round"/>
<line x1="982.3" y1="790.1" x2="995.45" y2="790.1" stroke="#4d4d4d" stroke-opacity="0.5" stroke-width="3.0" stroke-linecap="round"/>
<line x1="1092.17" y1="1336.5" x2="1092.17" y2="1298.03" stroke="#4d4d4d" stroke-opacity="0.5" stroke-width="3.0" stroke-linecap="round"/>
<line x1="982.3" y1="790.1" x2="995.45" y2="790.1" stroke="#4d4d4d" stroke-opacity="0.5" stroke-width="3.0" stroke-linecap="round"/>
<line x1="1092.17" y1="1336.5" x2="1092.17" y2="1298.03" stroke="#4d4d4d" stroke-opacity="0.5" stroke-width="3.0" stroke-linecap="round"/>
<line x1="982.3" y1="790.1" x2="995.45" y2="790.1" stroke="#4d4d4d" stroke-opacity="0.5" stroke-width="3.0" stroke-linecap="round"/>
<line x1="1130.72" y1="1336.5" x2="1130.72" y2="1298.03" stroke="#4d4d4d" stroke-opacity="0.5" stroke-width="3.0" stroke-linecap="round"/>
<line x1="982.3" y1="818.59" x2="995.45" y2="818.59" stroke="#4d4d4d" stroke-opacity="0.5" stroke-width="3.0" stroke-linecap="round"/>
<line x1="1066.47" y1="1336.5" x2="1066.47" y2="1298.03" stroke="#4d4d4d" stroke-opacity="0.5" stroke-width="3.0" stroke-linecap="round"/>
<line x1="982.3" y1="847.08" x2="995.45" y2="847.08" stroke="#4d4d4d" stroke-opacity="0.5" stroke-width="3.0" stroke-linecap="round"/>
<line x1="1117.87" y1="1336.5" x2="1117.87" y2="1298.03" stroke="#4d4d4d" stroke-opacity="0.5" stroke-width="3.0" stroke-linecap="round"/>
<line x1="982.3" y1="847.08" x2="995.45" y2="847.08" stroke="#4d4d4d" stroke-opacity="0.5" stroke-width="3.0" stroke-linecap="round"/>
<line x1="1053.62" y1="1336.5" x2="1053.62" y2="1298.03" stroke="#4d4d4d" stroke-opacity="0.5" stroke-width="3.0" stroke-linecap="round"/>
<line x1="982.3" y1="904.06" x2="995.45" y2="904.06" stroke="#4d4d4d" stroke-opacity="0.5" stroke-width="3.0" stroke-linecap="round"/>
<line x1="1002.22" y1="1336.5" x2="1002.22" y2="1298.03" stroke="#4d4d4d" stroke-opacity="0.5" stroke-width="3.0" stroke-linecap="round"/>
<line x1="982.3" y1="961.04" x2="995.45" y2="961.04" stroke="#4d4d4d" stroke-opacity="0.5" stroke-width="3.0" stroke-linecap="round"/>
<line x1="1015.07" y1="1336.5" x2="1015.07" y2="1298.03" stroke="#4d4d4d" stroke-opacity="0.5" stroke-width="3.0" stroke-linecap="round"/>
<line x1="982.3" y1="961.04" x2="995.45" y2="961.04" stroke="#4d4d4d" stroke-opacity="0.5" stroke-width="3.0" stroke-linecap="round"/>
<line x1="1053.62" y1="1336.5" x2="1053.62" y2="1298.03" stroke="#4d4d4d" stroke-opacity="0.5" stroke-width="3.0" stroke-linecap="round"/>
<line x1="982.3" y1="961.04" x2="995.45" y2="961.04" stroke="#4d4d4d" stroke-opacity="0.5" stroke-width="3.0" stroke-linecap="round"/>
<line x1="1156.42" y1="1336.5" x2="1156.42" y2="1298.03" stroke="#4d4d4d" stroke-opacity="0.5" stroke-width="3.0" stroke-linecap="round"/>
<line x1="982.3" y1="961.04" x2="995.45" y2="961.04" stroke="#4d4d4d" stroke-opacity="0.5" stroke-width="3.0" stroke-linecap="round"/>
<line x1="1027.92" y1="1336.5" x2="1027.92" y2="1298.03" stroke="#4d4d4d" stroke-opacity="0.5" stroke-width="3.0" stroke-linecap="round"/>
<line x1="982.3" y1="989.53" x2="995.45" y2="989.53" stroke="#4d4d4d" stroke-opacity="0.5" stroke-width="3.0" stroke-linecap="round"/>
<line x1="1130.72" y1="1336.5" x2="1130.72" y2="1298.03" stroke="#4d4d4d" stroke-opacity="0.5" stroke-width="3.0" stroke-linecap="round"/>
<line x1="982.3" y1="989.53" x2="995.45" y2="989.53" stroke="#4d4d4d" stroke-opacity="0.5" stroke-width="3.0" stroke-linecap="round"/>
<line x1="1105.02" y1="1336.5" x2="1105.02" y2="1298.03" stroke="#4d4d4d" stroke-opacity="0.5" stroke-width="3.0" stroke-linecap="round"/>
<line x1="982.3" y1="1046.51" x2="995.45" y2="1046.51" stroke="#4d4d4d" stroke-opacity="0.5" stroke-width="3.0" stroke-linecap="round"/>
<line x1="982.3" y1="790.1" x2="1420.5" y2="790.1" stroke="#000" stroke-width="3.5" stroke-dasharray="10.6 10.6"/>
</g>
<line x1="982.3" y1="1336.5" x2="1420.5" y2="1336.5" stroke="#000" stroke-width="3.0"/>
<line x1="989.37" y1="1338" x2="989.37" y2="1344.6" stroke="#333333" stroke-width="3"/>
<text x="989.37" y="1372.3" font-size="29.33" fill="#4d4d4d" text-anchor="middle">10</text>
<line x1="1117.87" y1="1338" x2="1117.87" y2="1344.6" stroke="#333333" stroke-width="3"/>
<text x="1117.87" y="1372.3" font-size="29.33" fill="#4d4d4d" text-anchor="middle">20</text>
<line x1="1246.37" y1="1338" x2="1246.37" y2="1344.6" stroke="#333333" stroke-width="3"/>
<text x="1246.37" y="1372.3" font-size="29.33" fill="#4d4d4d" text-anchor="middle">30</text>
<line x1="1374.87" y1="1338" x2="1374.87" y2="1344.6" stroke="#333333" stroke-width="3"/>
<text x="1374.87" y="1372.3" font-size="29.33" fill="#4d4d4d" text-anchor="middle">40</text>
<rect x="983.45" y="1.25" width="436.4" height="50.7" fill="#fff" stroke="#000" stroke-width="3.8"/>
<text x="1201.65" y="37.4" font-size="28.8" fill="#1a1a1a" text-anchor="middle">Relative language proficiency</text>
<defs>
<clipPath id="c0"><rect x="73.6" y="54" width="438.2" height="1282.5"/></clipPath>
<clipPath id="c1"><rect x="528" y="54" width="438.2" height="1282.5"/></clipPath>
<clipPath id="c2"><rect x="982.3" y="54" width="438.2" height="1282.5"/></clipPath>
</defs>
<line x1="73.6" y1="53" x2="73.6" y2="1338" stroke="#000" stroke-width="3.0"/>
<line x1="66" y1="1075" x2="72.1" y2="1075" stroke="#333333" stroke-width="3"/>
<text x="59.5" y="1085.4" font-size="29.33" fill="#4d4d4d" text-anchor="end">2</text>
<line x1="66" y1="790.1" x2="72.1" y2="790.1" stroke="#333333" stroke-width="3"/>
<text x="59.5" y="800.5" font-size="29.33" fill="#4d4d4d" text-anchor="end">3</text>
<line x1="66" y1="505.2" x2="72.1" y2="505.2" stroke="#333333" stroke-width="3"/>
<text x="59.5" y="515.6" font-size="29.33" fill="#4d4d4d" text-anchor="end">4</text>
<line x1="66" y1="220.3" x2="72.1" y2="220.3" stroke="#333333" stroke-width="3"/>
<text x="59.5" y="230.7" font-size="29.33" fill="#4d4d4d" text-anchor="end">5</text>
<text x="747" y="1412.7" font-size="37.6" fill="#000" text-anchor="middle">Age of Arrival</text>
<text transform="translate(27.5,699.4) rotate(-90)" x="0" y="0" font-size="37.45" fill="#000" text-anchor="middle">Language dominance score (&lt;3 = Italian, &gt;3 = Romanian)</text>
</svg></body></html>
